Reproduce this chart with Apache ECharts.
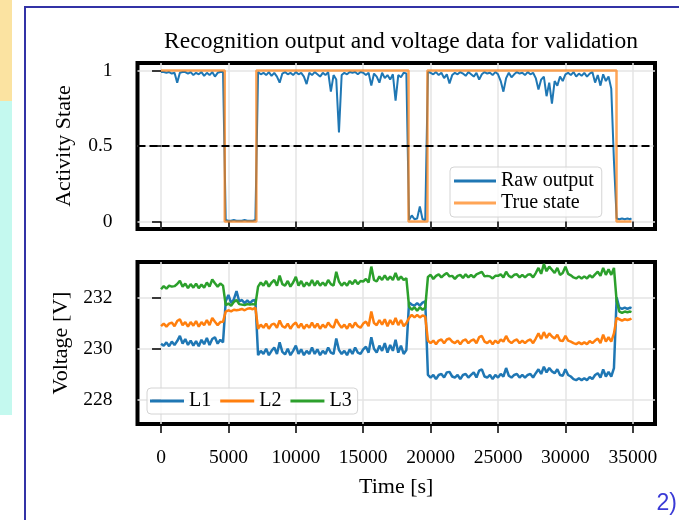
<!DOCTYPE html>
<html>
<head>
<meta charset="utf-8">
<title>Recognition output and voltage data for validation</title>
<script src="https://cdn.jsdelivr.net/npm/echarts@6.0.0/dist/echarts.min.js"></script>
<style>
  html, body { margin: 0; padding: 0; background: #fff; }
  #main { width: 679px; height: 520px; }
</style>
</head>
<body>
<div id="main"></div>
<script>
// sample times [s]
var times = [
  0, 200, 400, 600, 800, 1000, 1200, 1400, 1600, 1800,
  2000, 2200, 2400, 2600, 2800, 3000, 3200, 3400, 3600, 3800,
  4000, 4200, 4400, 4600, 4800, 5000, 5200, 5400, 5600, 5800,
  6000, 6200, 6400, 6600, 6800, 7000, 7200, 7400, 7600, 7800,
  8000, 8200, 8400, 8600, 8800, 9000, 9200, 9400, 9600, 9800,
  10000, 10200, 10400, 10600, 10800, 11000, 11200, 11400, 11600, 11800,
  12000, 12200, 12400, 12600, 12800, 13000, 13200, 13400, 13600, 13800,
  14000, 14200, 14400, 14600, 14800, 15000, 15200, 15400, 15600, 15800,
  16000, 16200, 16400, 16600, 16800, 17000, 17200, 17400, 17600, 17800,
  18000, 18200, 18400, 18600, 18800, 19000, 19200, 19400, 19600, 19800,
  20000, 20200, 20400, 20600, 20800, 21000, 21200, 21400, 21600, 21800,
  22000, 22200, 22400, 22600, 22800, 23000, 23200, 23400, 23600, 23800,
  24000, 24200, 24400, 24600, 24800, 25000, 25200, 25400, 25600, 25800,
  26000, 26200, 26400, 26600, 26800, 27000, 27200, 27400, 27600, 27800,
  28000, 28200, 28400, 28600, 28800, 29000, 29200, 29400, 29600, 29800,
  30000, 30200, 30400, 30600, 30800, 31000, 31200, 31400, 31600, 31800,
  32000, 32200, 32400, 32600, 32800, 33000, 33200, 33400, 33600, 33800,
  34000, 34200, 34400, 34600, 34800, 34900
];

// recognition output (top panel)
var rawOutput = [
  // 0 - 4600
  0.99, 0.99, 0.985, 0.99, 0.98, 0.985, 0.92, 0.985, 0.99, 0.99,
  0.98, 0.99, 0.97, 0.985, 0.975, 0.99, 0.965, 0.985, 0.97, 0.99,
  0.96, 0.985, 0.99, 0.99,
  // 4800 - 7000
  0.01, 0.005, 0.005, 0.01, 0.005, 0.005, 0.005, 0.01, 0.005, 0.005, 0.005, 0.01,
  // 7200 - 18200
  0.99, 0.975, 0.985, 0.97, 0.99, 0.965, 0.985, 0.96, 0.92, 0.98,
  0.99, 0.975, 0.985, 0.97, 0.99, 0.975, 0.985, 0.96, 0.91, 0.985,
  0.97, 0.99, 0.975, 0.96, 0.985, 0.97, 0.99, 0.86, 0.97, 0.94,
  0.59, 0.97, 0.985, 0.975, 0.99, 0.985, 0.99, 0.975, 0.99, 0.985,
  0.97, 0.985, 0.90, 0.98, 0.96, 0.92, 0.985, 0.95, 0.97, 0.94,
  0.975, 0.80, 0.97, 0.955, 0.985, 0.98,
  // 18400 - 19600
  0.01, 0.04, 0.015, 0.02, 0.10, 0.015, 0.01,
  // 19800 - 33600
  0.99, 0.985, 0.975, 0.99, 0.97, 0.985, 0.95, 0.975, 0.915, 0.97,
  0.985, 0.975, 0.99, 0.98, 0.965, 0.99, 0.975, 0.96, 0.985, 0.94,
  0.975, 0.99, 0.98, 0.985, 0.97, 0.99, 0.975, 0.93, 0.86, 0.95,
  0.985, 0.955, 0.975, 0.99, 0.98, 0.985, 0.97, 0.99, 0.975, 0.985,
  0.95, 0.875, 0.94, 0.96, 0.83, 0.92, 0.78, 0.93, 0.9, 0.96,
  0.93, 0.975, 0.985, 0.97, 0.99, 0.96, 0.98, 0.965, 0.985, 0.96,
  0.98, 0.99, 0.92, 0.97, 0.90, 0.975, 0.93, 0.96, 0.88, 0.40,
  // 33800 - 34900
  0.02, 0.015, 0.02, 0.015, 0.02, 0.015, 0.02
];

// true state (step)
var stateTimes = [0, 4726, 7074, 18360, 19763, 33790, 34900];
var stateValues = [1, 0, 1, 0, 1, 0, 0];

// phase voltages [V]
var voltL1 = [
  230.2, 230.12, 230.25, 230.1, 230.28, 230.15, 230.3, 230.5, 230.2, 230.38,
  230.15, 230.32, 230.12, 230.3, 230.1, 230.35, 230.18, 230.42, 230.15, 230.38,
  230.45, 230.2, 230.35, 230.25,
  231.85, 232.1, 231.78, 231.92, 232.25, 231.85, 231.9, 231.78, 231.88, 231.78, 231.88, 231.9,
  229.75, 229.92, 229.8, 230.0, 229.75, 229.92, 230.05, 229.8, 230.25, 229.88,
  229.78, 230.0, 229.75, 229.92, 230.12, 229.8, 229.98, 229.75, 229.92, 229.8,
  230.05, 229.8, 229.98, 229.75, 229.92, 229.8, 230.05, 229.85, 229.8, 230.4,
  229.95, 229.8, 229.92, 229.75, 229.98, 229.8, 230.05, 229.85, 229.8, 229.98,
  230.08, 229.85, 230.45, 230.0, 229.85, 230.12, 229.92, 230.22, 229.85, 230.15,
  229.92, 230.35, 229.85, 230.12, 229.8, 229.95,
  231.8, 231.72, 231.68, 231.78, 231.68, 231.8, 231.85,
  228.98, 228.88, 228.98, 228.82, 228.98, 229.02, 228.88, 229.08, 229.1, 228.92,
  228.88, 228.98, 228.82, 228.98, 229.02, 228.88, 228.98, 229.08, 228.88, 229.15,
  229.2, 228.92, 228.88, 228.98, 228.82, 228.98, 228.88, 229.02, 228.92, 229.25,
  228.95, 228.88, 228.98, 229.02, 228.88, 228.98, 228.88, 228.98, 229.02, 228.88,
  229.05, 229.2, 229.02, 229.3, 229.08, 229.25, 229.12, 229.05, 229.2, 228.98,
  228.95, 229.2, 228.98, 228.92, 228.82, 228.78, 228.85, 228.78, 228.85, 228.78,
  228.9, 228.82, 228.98, 229.05, 228.88, 229.2, 228.92, 229.1, 228.92, 229.25,
  232.0, 231.6, 231.55, 231.6, 231.55, 231.6, 231.58
];

var voltL2 = [
  230.88, 230.98, 230.86, 230.98, 231.02, 230.88, 231.08, 231.15, 230.92, 231.04,
  230.86, 231.04, 230.9, 231.08, 230.86, 231.04, 230.92, 231.12, 230.92, 231.2,
  231.05, 230.92, 231.04, 231.05,
  231.45, 231.5, 231.46, 231.52, 231.5, 231.52, 231.55, 231.5, 231.56, 231.58, 231.54, 231.6,
  230.78, 230.94, 230.82, 230.98, 230.78, 230.94, 230.98, 230.82, 231.1, 230.88,
  230.82, 230.98, 230.78, 230.94, 231.02, 230.82, 230.98, 230.78, 230.94, 230.82,
  231.02, 230.82, 230.98, 230.78, 230.94, 230.82, 231.02, 230.88, 230.82, 231.15,
  230.96, 230.82, 230.94, 230.78, 230.98, 230.82, 231.02, 230.88, 230.82, 230.98,
  231.06, 230.88, 231.45, 231.0, 230.92, 231.12, 230.94, 231.15, 230.88, 231.12,
  230.94, 231.2, 230.92, 231.12, 230.88, 231.0,
  231.2, 231.32, 231.22, 231.32, 231.22, 231.3, 231.25,
  230.32, 230.22, 230.32, 230.18, 230.32, 230.36, 230.22, 230.36, 230.4, 230.28,
  230.22, 230.32, 230.18, 230.32, 230.36, 230.22, 230.32, 230.36, 230.22, 230.45,
  230.5, 230.28, 230.22, 230.32, 230.18, 230.32, 230.22, 230.36, 230.28, 230.5,
  230.3, 230.22, 230.32, 230.36, 230.22, 230.32, 230.22, 230.32, 230.36, 230.22,
  230.4, 230.6, 230.38, 230.65, 230.42, 230.6, 230.48, 230.4, 230.55, 230.32,
  230.3, 230.5, 230.32, 230.28, 230.22, 230.18, 230.25, 230.18, 230.25, 230.18,
  230.3, 230.22, 230.32, 230.4, 230.22, 230.55, 230.28, 230.45, 230.28, 230.6,
  231.2, 231.15, 231.1, 231.15, 231.12, 231.15, 231.18
];

var voltL3 = [
  232.32, 232.44, 232.34, 232.46, 232.42, 232.44, 232.52, 232.65, 232.42, 232.54,
  232.36, 232.52, 232.38, 232.54, 232.36, 232.5, 232.38, 232.58, 232.42, 232.7,
  232.55, 232.42, 232.54, 232.46,
  231.7, 231.76, 231.68, 231.82, 231.9, 231.74, 231.72, 231.7, 231.74, 231.72, 231.74, 231.72,
  232.42, 232.58, 232.46, 232.64, 232.42, 232.58, 232.68, 232.46, 232.85, 232.52,
  232.46, 232.64, 232.42, 232.58, 232.8, 232.46, 232.64, 232.42, 232.58, 232.46,
  232.68, 232.46, 232.64, 232.46, 232.58, 232.46, 232.68, 232.52, 232.46, 233.0,
  232.62, 232.46, 232.58, 232.46, 232.64, 232.52, 232.68, 232.52, 232.64, 232.62,
  232.72, 232.58, 233.2, 232.68, 232.62, 232.82, 232.68, 232.86, 232.68, 232.82,
  232.68, 232.95, 232.68, 232.82, 232.68, 232.75,
  231.65, 231.52, 231.62, 231.48, 231.62, 231.52, 231.6,
  232.8, 232.88, 232.72, 232.84, 232.9, 232.78, 232.88, 232.95, 232.82, 232.84,
  232.72, 232.84, 232.88, 232.76, 232.9, 232.78, 232.88, 232.78, 232.9, 232.95,
  233.0, 232.82, 232.84, 232.82, 232.74, 232.84, 232.84, 232.9, 232.78, 233.0,
  232.84, 232.78, 232.88, 232.9, 232.78, 232.88, 232.78, 232.88, 232.9, 232.78,
  232.95, 233.15, 232.92, 233.3, 233.02, 233.2, 233.08, 232.95, 233.15, 232.88,
  232.95, 233.2, 232.92, 232.86, 232.78, 232.74, 232.82, 232.74, 232.82, 232.74,
  232.86, 232.78, 232.9, 233.0, 232.84, 233.15, 232.88, 233.1, 232.88, 233.15,
  231.85, 231.45, 231.4, 231.45, 231.42, 231.45, 231.43
];

// tick labels
var timeTicks = [0, 5000, 10000, 15000, 20000, 25000, 30000, 35000];
var stateTicks = [0, 0.5, 1];
var voltTicks = [228, 230, 232];

function pairs(xs, ys) {
  return xs.map(function (x, i) { return [x, ys[i]]; });
}

var serif = 'Liberation Serif';
var gridLine = { show: true, lineStyle: { color: '#e4e4e4', width: 1.5 } };
var tick = { show: true, length: 9, lineStyle: { color: '#000', width: 1.5 } };

var myChart = echarts.init(document.getElementById('main'));
var option = {
  animation: false,
  backgroundColor: '#fff',
  title: {
    text: 'Recognition output and voltage data for validation',
    left: 396, top: 25, textAlign: 'center',
    textStyle: { fontFamily: serif, fontSize: 23.5, fontWeight: 'normal', color: '#000' }
  },
  graphic: [
    { type: 'rect', shape: { x: 0, y: 0, width: 12, height: 101 }, style: { fill: '#fbe3a1' }, z: -10 },
    { type: 'rect', shape: { x: 0, y: 101, width: 12, height: 314 }, style: { fill: '#c4f9ef' }, z: -10 },
    { type: 'rect', shape: { x: 25, y: 7, width: 700, height: 600 }, style: { fill: 'none', stroke: '#3333a6', lineWidth: 2 }, z: -10 },
    { type: 'text', x: 677, y: 504, style: { text: '2)', fill: '#3a3ad6', font: '23px "Liberation Sans"', align: 'right', verticalAlign: 'middle' } }
  ],
  legend: [
    {
      data: ['Raw output', 'True state'],
      orient: 'vertical', left: 450, top: 167,
      icon: 'rect', itemWidth: 42, itemHeight: 3, itemGap: 2,
      padding: [4, 8, 4, 4],
      backgroundColor: 'rgba(255,255,255,0.8)', borderColor: '#d4d4d4', borderWidth: 1, borderRadius: 4,
      textStyle: { fontFamily: serif, fontSize: 20, color: '#000' }
    },
    {
      data: ['L1', 'L2', 'L3'],
      left: 147, top: 388,
      icon: 'rect', itemWidth: 34, itemHeight: 3, itemGap: 9,
      padding: [3, 6, 3, 3],
      backgroundColor: 'rgba(255,255,255,0.8)', borderColor: '#d4d4d4', borderWidth: 1, borderRadius: 4,
      textStyle: { fontFamily: serif, fontSize: 20, color: '#000' }
    }
  ],
  grid: [
    { left: 137.5, top: 63, width: 517.5, height: 166, show: true, borderColor: '#000', borderWidth: 4, backgroundColor: '#fff' },
    { left: 137.5, top: 262, width: 517.5, height: 162, show: true, borderColor: '#000', borderWidth: 4, backgroundColor: '#fff' }
  ],
  xAxis: [
    {
      type: 'value', gridIndex: 0, min: -1745, max: 36645,
      axisLine: { show: false },
      axisTick: Object.assign({ customValues: timeTicks }, tick),
      axisLabel: { show: false, customValues: timeTicks },
      splitLine: gridLine
    },
    {
      type: 'value', gridIndex: 1, min: -1745, max: 36645,
      name: 'Time [s]', nameLocation: 'middle', nameGap: 52,
      nameTextStyle: { fontFamily: serif, fontSize: 22, color: '#000' },
      axisLine: { show: false },
      axisTick: Object.assign({ customValues: timeTicks }, tick),
      axisLabel: {
        customValues: timeTicks, margin: 24, fontFamily: serif, fontSize: 19.5, color: '#000',
        formatter: function (v) { return String(v); }
      },
      splitLine: gridLine
    }
  ],
  yAxis: [
    {
      type: 'value', gridIndex: 0, min: -0.05, max: 1.05,
      name: 'Activity State', nameLocation: 'middle', nameGap: 62,
      nameTextStyle: { fontFamily: serif, fontSize: 22, color: '#000' },
      axisLine: { show: false },
      axisTick: Object.assign({ customValues: stateTicks }, tick),
      axisLabel: { customValues: stateTicks, margin: 25, fontFamily: serif, fontSize: 19.5, color: '#000' },
      splitLine: gridLine
    },
    {
      type: 'value', gridIndex: 1, min: 227.07, max: 233.38,
      name: 'Voltage [V]', nameLocation: 'middle', nameGap: 62,
      nameTextStyle: { fontFamily: serif, fontSize: 22, color: '#000' },
      axisLine: { show: false },
      axisTick: Object.assign({ customValues: voltTicks }, tick),
      axisLabel: { customValues: voltTicks, margin: 25, fontFamily: serif, fontSize: 19.5, color: '#000' },
      splitLine: gridLine
    }
  ],
  series: [
    {
      name: 'Raw output', type: 'line', xAxisIndex: 0, yAxisIndex: 0,
      data: pairs(times, rawOutput), showSymbol: false, color: '#1f77b4',
      lineStyle: { width: 2 },
      markLine: {
        silent: true, symbol: 'none', label: { show: false },
        lineStyle: { color: '#000', type: [8, 4], width: 2 },
        data: [{ yAxis: 0.5 }]
      }
    },
    {
      name: 'True state', type: 'line', xAxisIndex: 0, yAxisIndex: 0,
      data: pairs(stateTimes, stateValues), step: 'end', showSymbol: false,
      color: 'rgba(255,127,14,0.7)', lineStyle: { width: 2.5 }
    },
    {
      name: 'L1', type: 'line', xAxisIndex: 1, yAxisIndex: 1,
      data: pairs(times, voltL1), showSymbol: false, color: '#1f77b4', lineStyle: { width: 2.5 }
    },
    {
      name: 'L2', type: 'line', xAxisIndex: 1, yAxisIndex: 1,
      data: pairs(times, voltL2), showSymbol: false, color: '#ff7f0e', lineStyle: { width: 2.5 }
    },
    {
      name: 'L3', type: 'line', xAxisIndex: 1, yAxisIndex: 1,
      data: pairs(times, voltL3), showSymbol: false, color: '#2ca02c', lineStyle: { width: 2.5 }
    }
  ]
};
myChart.setOption(option);
</script>
</body>
</html>
